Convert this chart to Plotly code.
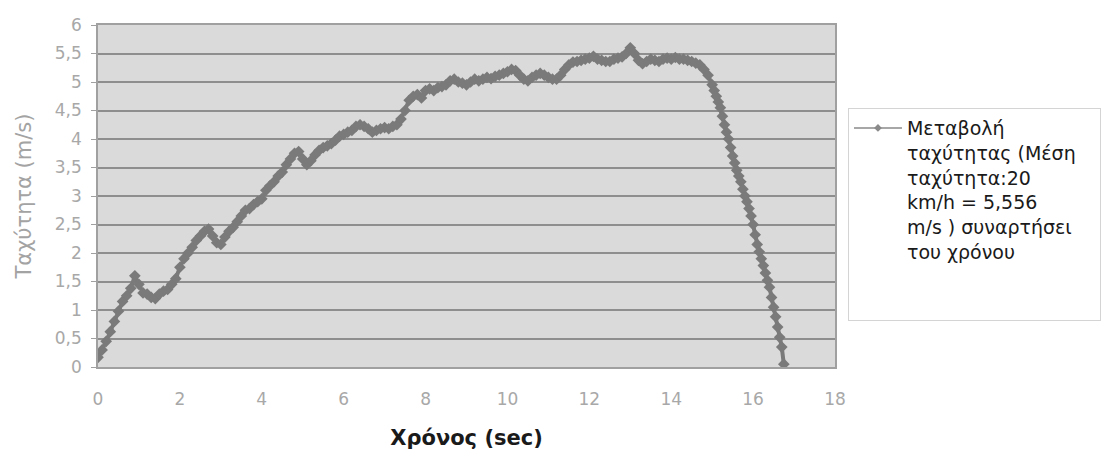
import plotly.graph_objects as go

# Speed samples over time (s -> m/s)
time_s = [
    0.0, 0.1, 0.2, 0.3, 0.4, 0.5, 0.6, 0.7, 0.8, 0.9,
    1.0, 1.1, 1.2, 1.3, 1.4, 1.5, 1.6, 1.7, 1.8, 1.9,
    2.0, 2.1, 2.2, 2.3, 2.4, 2.5, 2.6, 2.7, 2.8, 2.9,
    3.0, 3.1, 3.2, 3.3, 3.4, 3.5, 3.6, 3.7, 3.8, 3.9,
    4.0, 4.1, 4.2, 4.3, 4.4, 4.5, 4.6, 4.7, 4.8, 4.9,
    5.0, 5.1, 5.2, 5.3, 5.4, 5.5, 5.6, 5.7, 5.8, 5.9,
    6.0, 6.1, 6.2, 6.3, 6.4, 6.5, 6.6, 6.7, 6.8, 6.9,
    7.0, 7.1, 7.2, 7.3, 7.4, 7.5, 7.6, 7.7, 7.8, 7.9,
    8.0, 8.1, 8.2, 8.3, 8.4, 8.5, 8.6, 8.7, 8.8, 8.9,
    9.0, 9.1, 9.2, 9.3, 9.4, 9.5, 9.6, 9.7, 9.8, 9.9,
    10.0, 10.1, 10.2, 10.3, 10.4, 10.5, 10.6, 10.7, 10.8, 10.9,
    11.0, 11.1, 11.2, 11.3, 11.4, 11.5, 11.6, 11.7, 11.8, 11.9,
    12.0, 12.1, 12.2, 12.3, 12.4, 12.5, 12.6, 12.7, 12.8, 12.9,
    13.0, 13.1, 13.2, 13.3, 13.4, 13.5, 13.6, 13.7, 13.8, 13.9,
    14.0, 14.1, 14.2, 14.3, 14.4, 14.5, 14.6, 14.7, 14.8, 14.9,
    15.0, 15.05, 15.1, 15.15, 15.2, 15.25, 15.3, 15.35, 15.4, 15.45,
    15.5, 15.55, 15.6, 15.65, 15.7, 15.75, 15.8, 15.85, 15.9, 15.95,
    16.0, 16.05, 16.1, 16.15, 16.2, 16.25, 16.3, 16.35, 16.4, 16.45,
    16.5, 16.55, 16.6, 16.65, 16.7, 16.75,
]
speed_ms = [
    0.17, 0.30, 0.45, 0.62, 0.80, 0.98, 1.15, 1.25, 1.38, 1.60,
    1.45, 1.30, 1.28, 1.22, 1.20, 1.28, 1.33, 1.36, 1.45, 1.55,
    1.75, 1.90, 2.00, 2.10, 2.22, 2.30, 2.38, 2.42, 2.30, 2.18,
    2.15, 2.28, 2.38, 2.45, 2.55, 2.65, 2.75, 2.78, 2.85, 2.90,
    2.95, 3.10, 3.18, 3.25, 3.35, 3.42, 3.55, 3.65, 3.75, 3.78,
    3.65, 3.55, 3.62, 3.72, 3.80, 3.85, 3.88, 3.92, 3.98, 4.05,
    4.08, 4.12, 4.15, 4.22, 4.25, 4.22, 4.18, 4.12, 4.15, 4.18,
    4.20, 4.18, 4.22, 4.25, 4.35, 4.50, 4.68, 4.75, 4.78, 4.72,
    4.85, 4.88, 4.85, 4.90, 4.92, 4.95, 5.02, 5.05, 5.00, 4.98,
    4.95, 5.00, 5.05, 5.02, 5.05, 5.08, 5.06, 5.10, 5.12, 5.15,
    5.18, 5.22, 5.20, 5.12, 5.05, 5.02, 5.08, 5.12, 5.15, 5.12,
    5.08, 5.05, 5.05, 5.12, 5.22, 5.30, 5.35, 5.36, 5.38, 5.40,
    5.42, 5.45, 5.40, 5.38, 5.36, 5.36, 5.40, 5.42, 5.44, 5.50,
    5.60, 5.50, 5.38, 5.32, 5.36, 5.40, 5.38, 5.36, 5.40, 5.42,
    5.40, 5.43, 5.40, 5.40, 5.38, 5.36, 5.33, 5.30, 5.22, 5.12,
    4.95, 4.85, 4.75, 4.65, 4.55, 4.40, 4.25, 4.12, 4.00, 3.85,
    3.70, 3.58, 3.45, 3.35, 3.25, 3.12, 3.00, 2.90, 2.78, 2.65,
    2.50, 2.32, 2.15, 2.02, 1.90, 1.78, 1.65, 1.52, 1.40, 1.22,
    1.05, 0.88, 0.70, 0.52, 0.35, 0.05,
]

# series label; the trailing blank lines pad the legend box
series_name = ("Μεταβολή<br>ταχύτητας (Μέση<br>ταχύτητα:20<br>km/h = 5,556"
               "<br>m/s ) συναρτήσει<br>του χρόνου<br> <br>" + "\u00a0" * 31)

x_ticks = [0, 2, 4, 6, 8, 10, 12, 14, 16, 18]
y_ticks = [0, 0.5, 1, 1.5, 2, 2.5, 3, 3.5, 4, 4.5, 5, 5.5, 6]

line_gray = "#7a7a7a"
tick_gray = "#a8a8a8"

fig = go.Figure()
# the measured curve: dense diamond markers joined by a thick line
fig.add_trace(go.Scatter(
    x=time_s, y=speed_ms, name=series_name,
    mode="lines+markers", showlegend=False, legendgroup="v",
    line=dict(color=line_gray, width=4),
    marker=dict(symbol="diamond", size=9, color=line_gray),
))
# legend key drawn with a thin line and small diamond
fig.add_trace(go.Scatter(
    x=[None], y=[None], name=series_name,
    mode="lines+markers", legendgroup="v",
    line=dict(color="#8a8a8a", width=1.5),
    marker=dict(symbol="diamond", size=6, color="#8a8a8a"),
))

fig.update_layout(
    width=1115, height=459,
    margin=dict(l=98, r=280, t=25, b=92, autoexpand=False),
    paper_bgcolor="white",
    plot_bgcolor="#dadada",
    separators=", ",
    font=dict(family="DejaVu Sans, sans-serif", color=tick_gray),
    showlegend=True,
    legend=dict(
        x=1.0176, y=0.757, xanchor="left", yanchor="top",
        valign="top",
        bgcolor="white", bordercolor="#d4d4d4", borderwidth=1,
        font=dict(family="DejaVu Sans, sans-serif", size=19, color="#1a1a1a"),
        itemwidth=48,
    ),
    xaxis=dict(
        range=[0, 18], tickvals=x_ticks, showgrid=False, zeroline=False,
        showline=True, linecolor="#a0a0a0", linewidth=1.5, mirror=True,
        ticks="", ticklabelstandoff=16,
        tickfont=dict(size=17, color=tick_gray),
        title=dict(text="<b>Χρόνος (sec)</b>", standoff=22,
                   font=dict(family="DejaVu Sans, sans-serif", size=21, color="#1a1a1a")),
    ),
    yaxis=dict(
        range=[0, 6], tickvals=y_ticks, tickformat=".1~f",
        showgrid=True, gridcolor="#8e8e8e", gridwidth=1.5, zeroline=False,
        showline=True, linecolor="#a0a0a0", linewidth=1.5, mirror=True,
        ticks="outside", ticklen=5, tickcolor="#a0a0a0",
        ticklabelstandoff=6,
        tickfont=dict(size=17, color=tick_gray),
        title=dict(text="Ταχύτητα (m/s)", standoff=17,
                   font=dict(family="DejaVu Sans, sans-serif", size=21, color="#a3a3a3")),
    ),
)

fig.write_html("out.html")
